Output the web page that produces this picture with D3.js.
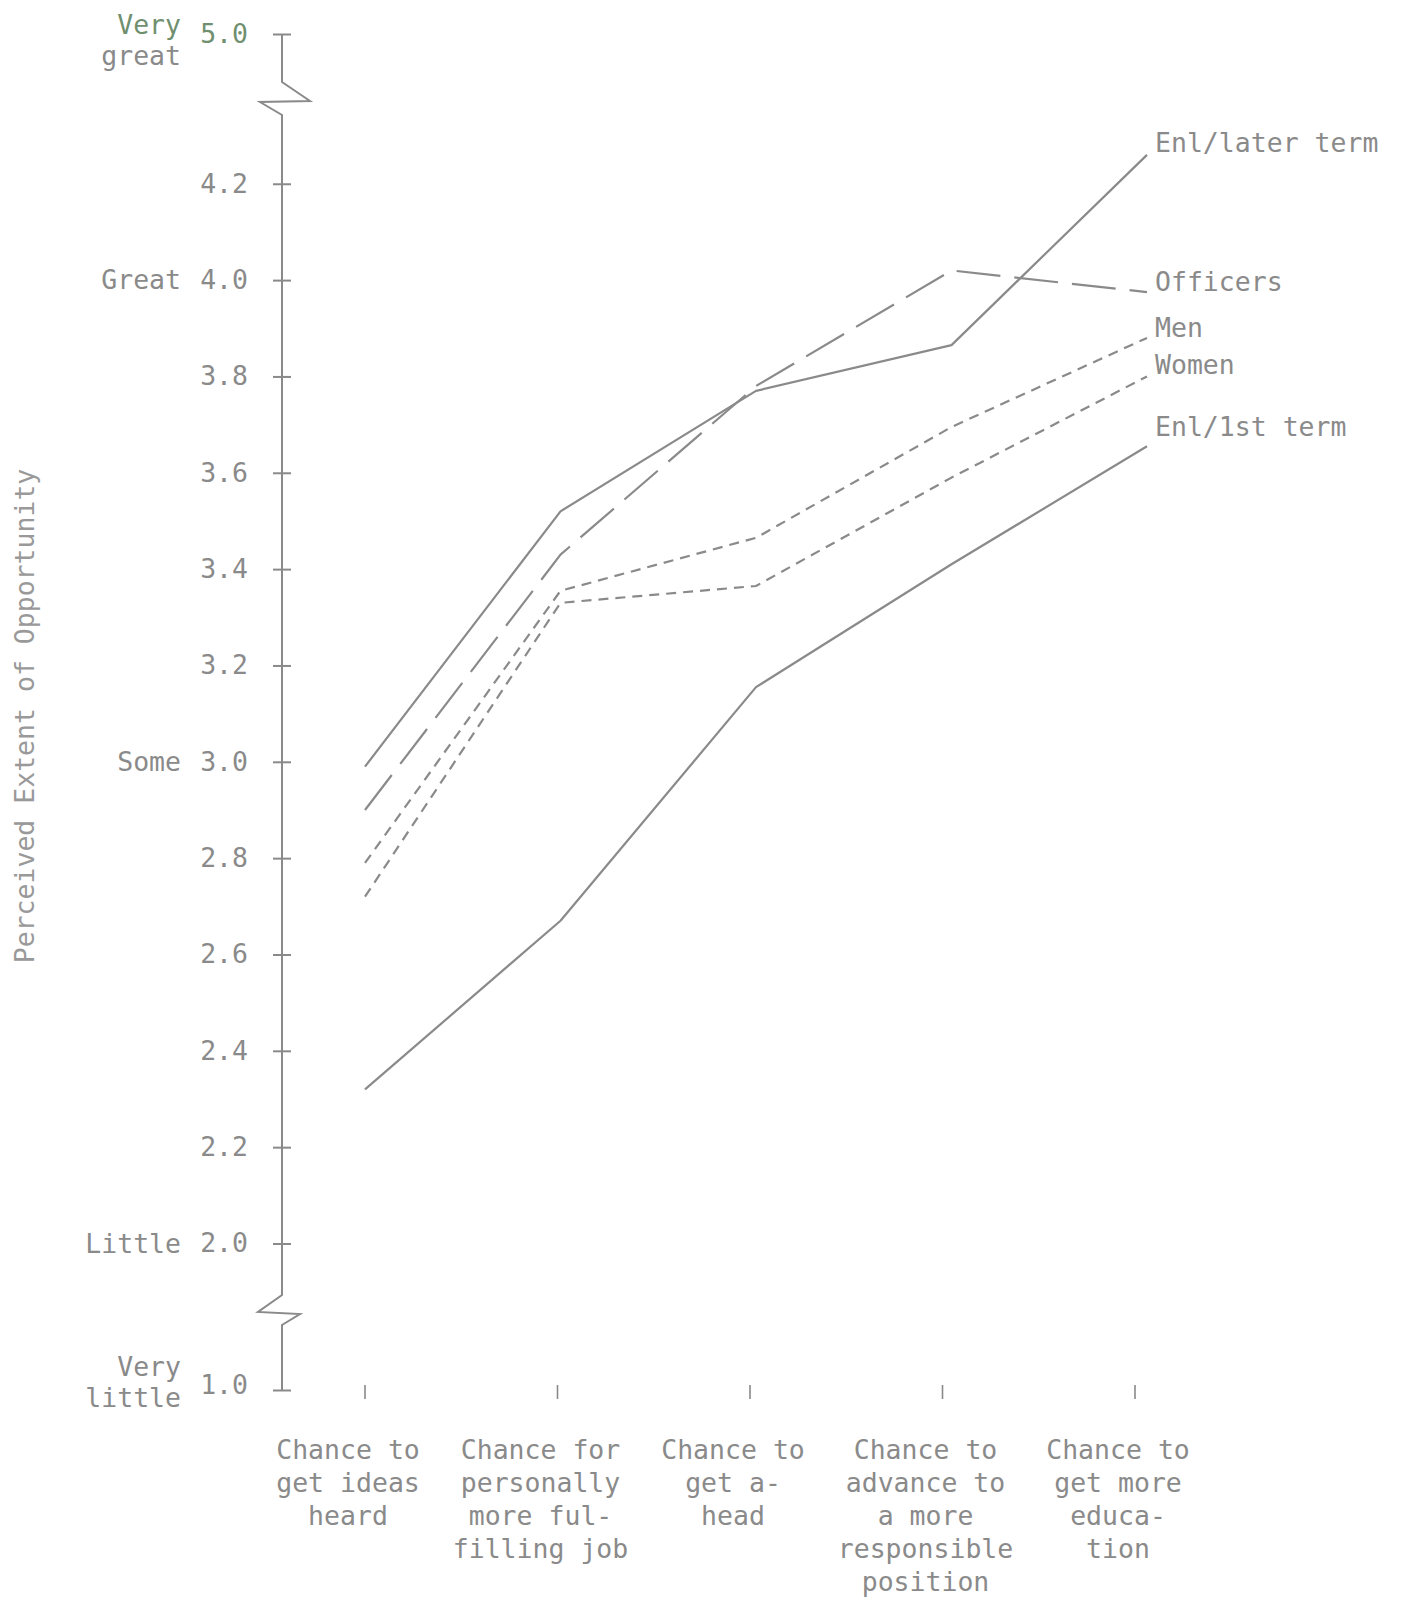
<!DOCTYPE html>
<html><head><meta charset="utf-8">
<script src="https://cdn.jsdelivr.net/npm/d3@7"></script>
<style>
body{margin:0;background:#fff;}
text{font-family:"DejaVu Sans Mono",monospace;}
</style></head><body>
<svg id="chart" width="1403" height="1599"></svg>
<script>
// ---- data ----
const categoryKeys = ["ideas", "fulfilling", "ahead", "advance", "education"];
const categoryLabels = [
  ["Chance to", "get ideas", "heard"],
  ["Chance for", "personally", "more ful-", "filling job"],
  ["Chance to", "get a-", "head"],
  ["Chance to", "advance to", "a more", "responsible", "position"],
  ["Chance to", "get more", "educa-", "tion"]
];
const seriesNames = ["Enl/later term", "Officers", "Men", "Women", "Enl/1st term"];
const enlLaterTerm = [2.99, 3.52, 3.77, 3.865, 4.26];
const officers     = [2.90, 3.43, 3.78, 4.02, 3.975];
const men          = [2.79, 3.355, 3.465, 3.695, 3.88];
const women        = [2.72, 3.33, 3.365, 3.59, 3.80];
const enlFirstTerm = [2.32, 2.67, 3.155, 3.41, 3.655];
const yTickValues = [1.0, 2.0, 2.2, 2.4, 2.6, 2.8, 3.0, 3.2, 3.4, 3.6, 3.8, 4.0, 4.2, 5.0];
const anchorValues = [5.0, 4.0, 3.0, 2.0, 1.0];
const anchorTexts = [["Very", "great"], ["Great"], ["Some"], ["Little"], ["Very", "little"]];
const yTitle = "Perceived Extent of Opportunity";

// ---- drawing ----
const svg = d3.select("#chart");
const ink = "#8a8a8a";
const FS = 26.5;

// broken scale: continuous 2.0–4.35, compressed below 2.0 and above 4.35
const y = d3.scaleLinear().domain([1.0, 2.0, 4.35, 5.0]).range([1390, 1243.5, 111.5, 34]);
const xTick = d3.scalePoint().domain(categoryKeys).range([365, 1135]);
const xData = d3.scalePoint().domain(categoryKeys).range([365, 1147]);
const AX = 282;

// y axis ticks & labels
const yAxis = d3.axisLeft(y).tickValues(yTickValues).tickFormat(d3.format(".1f"))
  .tickSizeInner(9).tickSizeOuter(0).tickPadding(25);
const gy = svg.append("g").attr("transform", `translate(${AX},0)`).call(yAxis);
gy.select(".domain").remove();
gy.selectAll(".tick line").attr("x1", -9).attr("x2", 9).attr("stroke", ink).attr("stroke-width", 2);
gy.selectAll(".tick text").style("font-size", FS + "px")
  .style("font-family", '"DejaVu Sans Mono",monospace')
  .attr("fill", d => d === 5.0 ? "#6f8f6f" : ink)
  .attr("dy", d => d === 1.0 ? "0.15em" : "0.32em");

// axis line with breaks
const y5 = y(5.0), y1 = y(1.0);
const axisPts = [
  [AX, y5], [AX, y5 + 48], [AX + 28, y5 + 67], [AX - 22, y5 + 68], [AX, y5 + 81],
  [AX, y1 - 95], [AX - 24, y1 - 78], [AX + 18, y1 - 76], [AX, y1 - 65], [AX, y1]
];
svg.append("path").attr("d", d3.line()(axisPts)).attr("fill", "none")
  .attr("stroke", ink).attr("stroke-width", 2).attr("stroke-linejoin", "miter");

// anchor word labels
const anchorOffsets = {5: -9, 1: -23};
anchorValues.forEach((v, i) => {
  const lines = anchorTexts[i];
  const t = svg.append("text").attr("text-anchor", "end").attr("x", 181)
    .attr("fill", ink).style("font-size", FS + "px");
  const start = lines.length > 1 ? anchorOffsets[v] : 0;
  lines.forEach((ln, j) => {
    t.append("tspan").attr("x", 181).attr("y", y(v) + start + j * 31).attr("dy", "0.35em")
      .attr("fill", (i === 0 && j === 0) ? "#6f8f6f" : ink).text(ln);
  });
});

// y title
svg.append("text").attr("transform", `translate(34,716) rotate(-90)`)
  .attr("text-anchor", "middle").attr("fill", "#999").style("font-size", FS + "px").text(yTitle);

// x ticks
svg.append("g").selectAll("line").data(categoryKeys).join("line")
  .attr("x1", d => xTick(d)).attr("x2", d => xTick(d))
  .attr("y1", 1385).attr("y2", 1399).attr("stroke", ink).attr("stroke-width", 1.6);

// x category labels
categoryKeys.forEach((k, i) => {
  const t = svg.append("text").attr("text-anchor", "middle").attr("fill", ink).style("font-size", FS + "px");
  categoryLabels[i].forEach((ln, j) => {
    t.append("tspan").attr("x", xTick(k) - 17).attr("y", 1450 + j * 33).attr("dy", "0.35em").text(ln);
  });
});

// series lines
const seriesValues = [enlLaterTerm, officers, men, women, enlFirstTerm];
const dashes = [null, "44,14", "10,7", "10,7", null];
const labelShift = [-12, -10, -10, -12, -20];
const line = d3.line().x((d, i) => xData(categoryKeys[i])).y(d => y(d));
seriesValues.forEach((vals, s) => {
  svg.append("path").attr("d", line(vals)).attr("fill", "none").attr("stroke", ink)
    .attr("stroke-width", 2.2).attr("stroke-dasharray", dashes[s]).attr("stroke-linejoin", "round");
  svg.append("text").attr("x", xData(categoryKeys[4]) + 8).attr("y", y(vals[4]) + labelShift[s])
    .attr("dy", "0.35em").attr("fill", ink).style("font-size", FS + "px").text(seriesNames[s]);
});
</script>
</body></html>
